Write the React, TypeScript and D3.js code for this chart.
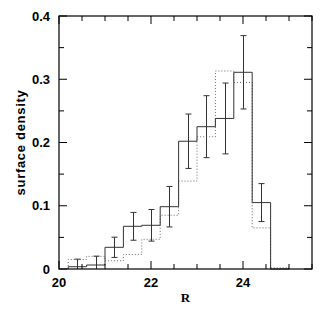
import React, { useRef, useEffect } from "react";
import * as d3 from "d3";

// bin left edges (R magnitude), bin width 0.4
const binEdges = [20.2, 20.6, 21.0, 21.4, 21.8, 22.2, 22.6, 23.0, 23.4, 23.8, 24.2, 24.6];
const binWidth = 0.4;
// solid histogram (with error bars)
const solidValues = [0.0036, 0.0063, 0.0343, 0.0675, 0.0691, 0.0985, 0.202, 0.225, 0.238, 0.311, 0.105, 0];
const solidErrors = [0.012, 0.014, 0.016, 0.022, 0.025, 0.032, 0.043, 0.049, 0.056, 0.058, 0.03, 0];
// dotted histogram
const dottedValues = [0.015, 0.02, 0.013, 0.023, 0.047, 0.085, 0.139, 0.209, 0.313, 0.295, 0.065, 0.002];

const xLabels = [20, 22, 24];
const yLabels = [0, 0.1, 0.2, 0.3, 0.4];

const W = 332;
const H = 311;
const margin = { top: 16, right: 20, bottom: 42, left: 59 };

const App: React.FC = () => {
  const svgRef = useRef<SVGSVGElement>(null);

  useEffect(() => {
    if (!svgRef.current) return;
    const svg = d3.select(svgRef.current);
    svg.selectAll("*").remove();

    const x = d3.scaleLinear().domain([20, 25.5]).range([margin.left, W - margin.right]);
    const y = d3.scaleLinear().domain([0, 0.4]).range([H - margin.bottom, margin.top]);
    const [x0, x1] = x.range();
    const [y0, y1] = y.range();

    const stepPoints = (vals: number[]) => {
      const pts: [number, number][] = [[binEdges[0], 0]];
      vals.forEach((v, i) => pts.push([binEdges[i], v]));
      const end = binEdges[binEdges.length - 1] + binWidth;
      pts.push([end, vals[vals.length - 1]]);
      pts.push([end, 0]);
      return pts;
    };

    const line = d3
      .line<[number, number]>()
      .x((d) => x(d[0]))
      .y((d) => y(d[1]))
      .curve(d3.curveStepAfter);

    // dotted histogram
    svg
      .append("path")
      .datum(stepPoints(dottedValues))
      .attr("fill", "none")
      .attr("stroke", "#666")
      .attr("stroke-width", 1)
      .attr("stroke-dasharray", "1,2")
      .attr("d", line);

    // solid histogram
    svg
      .append("path")
      .datum(stepPoints(solidValues))
      .attr("fill", "none")
      .attr("stroke", "#333")
      .attr("stroke-width", 1)
      .attr("d", line);

    // error bars
    const eb = svg.append("g").attr("stroke", "#333").attr("stroke-width", 1);
    solidValues.forEach((v, i) => {
      const e = solidErrors[i];
      if (e <= 0) return;
      const cx = Math.round(x(binEdges[i] + binWidth / 2)) + 0.5;
      const top = y(v + e);
      const bot = y(Math.max(0, v - e));
      eb.append("line").attr("x1", cx).attr("x2", cx).attr("y1", top).attr("y2", bot);
      eb.append("line").attr("x1", cx - 3).attr("x2", cx + 3).attr("y1", top).attr("y2", top);
      if (v - e > 0)
        eb.append("line").attr("x1", cx - 3).attr("x2", cx + 3).attr("y1", bot).attr("y2", bot);
    });

    // frame
    svg
      .append("rect")
      .attr("x", x0)
      .attr("y", y1)
      .attr("width", x1 - x0)
      .attr("height", y0 - y1)
      .attr("fill", "none")
      .attr("stroke", "#000")
      .attr("stroke-width", 1.2);

    // ticks on all four sides, pointing inward
    const tk = svg.append("g").attr("stroke", "#000").attr("stroke-width", 1);
    d3.range(20, 25.5 + 1e-6, 0.5).forEach((t) => {
      const major = Math.abs(t % 2) < 1e-6;
      const len = major ? 8 : 5;
      const px = x(t);
      tk.append("line").attr("x1", px).attr("x2", px).attr("y1", y0).attr("y2", y0 - len);
      tk.append("line").attr("x1", px).attr("x2", px).attr("y1", y1).attr("y2", y1 + len);
    });
    d3.range(0, 0.4 + 1e-6, 0.05).forEach((t, i) => {
      const major = i % 2 === 0;
      const len = major ? 8 : 5;
      const py = y(t);
      tk.append("line").attr("x1", x0).attr("x2", x0 + len).attr("y1", py).attr("y2", py);
      tk.append("line").attr("x1", x1).attr("x2", x1 - len).attr("y1", py).attr("y2", py);
    });

    const font = "'Liberation Sans', Arial, sans-serif";
    svg
      .append("g")
      .selectAll("text")
      .data(xLabels)
      .join("text")
      .attr("x", (d) => x(d))
      .attr("y", y0 + 18)
      .attr("text-anchor", "middle")
      .attr("font-family", font)
      .attr("font-weight", "bold")
      .attr("font-size", 13)
      .text((d) => d);

    svg
      .append("g")
      .selectAll("text")
      .data(yLabels)
      .join("text")
      .attr("x", x0 - 9)
      .attr("y", (d) => y(d) + 4.5)
      .attr("text-anchor", "end")
      .attr("font-family", font)
      .attr("font-weight", "bold")
      .attr("font-size", 13)
      .text((d) => (d === 0 ? "0" : d.toFixed(1)));

    svg
      .append("text")
      .attr("x", (x0 + x1) / 2)
      .attr("y", y0 + 33)
      .attr("text-anchor", "middle")
      .attr("font-family", "'Liberation Serif', 'Times New Roman', serif")
      .attr("font-weight", "bold")
      .attr("font-size", 13)
      .text("R");

    svg
      .append("text")
      .attr("transform", `translate(${25},${(y0 + y1) / 2}) rotate(-90)`)
      .attr("text-anchor", "middle")
      .attr("font-family", font)
      .attr("font-weight", "bold")
      .attr("font-size", 13)
      .attr("letter-spacing", 0.7)
      .text("surface density");
  }, []);

  return (
    <>
      <style>{`body{margin:0}`}</style>
      <svg ref={svgRef} width={W} height={H} style={{ display: "block", background: "#fff" }} />
    </>
  );
};

export default App;
